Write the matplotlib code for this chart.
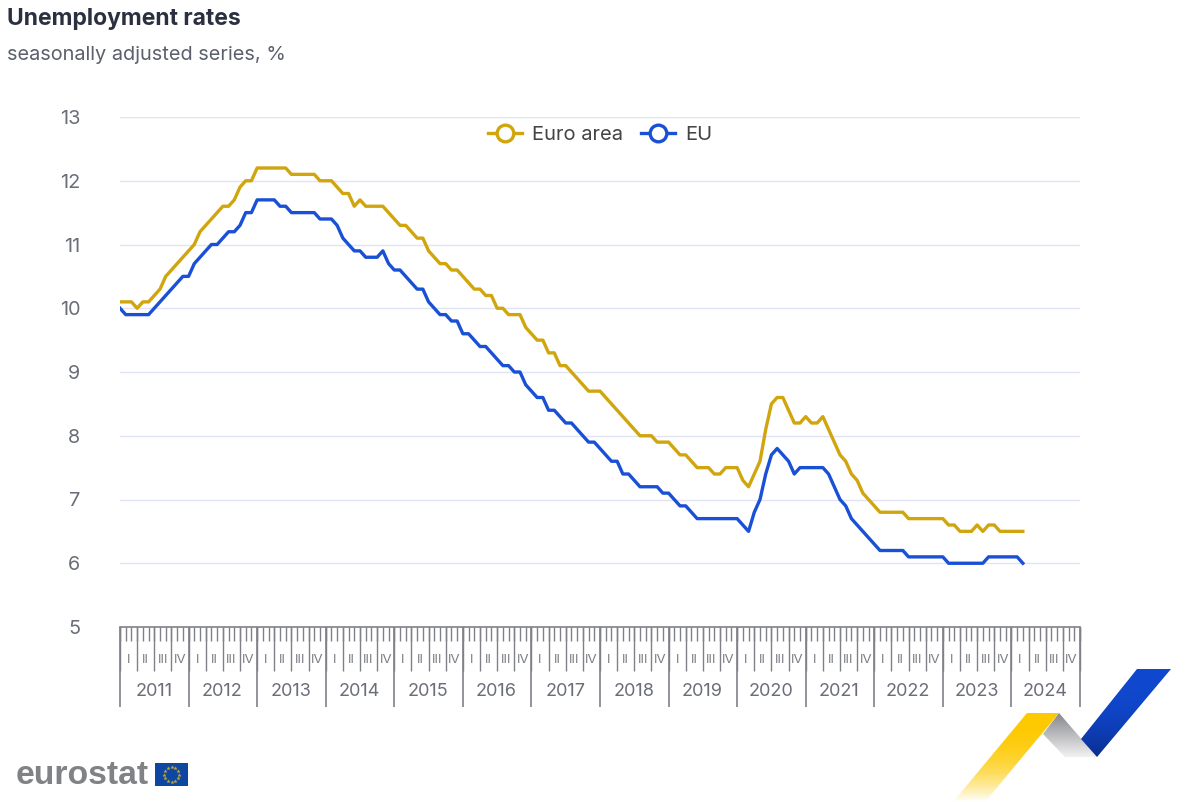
import numpy as np
import matplotlib
matplotlib.use("Agg")
import matplotlib.pyplot as plt
from matplotlib.lines import Line2D
from matplotlib.patches import Polygon, Rectangle

plt.rcParams['font.family'] = ['Inter', 'Liberation Sans', 'DejaVu Sans']

# monthly values, Jan 2011 - Mar 2024, one row per year
euro_area = [
    10.1, 10.1, 10.1, 10.0, 10.1, 10.1, 10.2, 10.3, 10.5, 10.6, 10.7, 10.8,
    10.9, 11.0, 11.2, 11.3, 11.4, 11.5, 11.6, 11.6, 11.7, 11.9, 12.0, 12.0,
    12.2, 12.2, 12.2, 12.2, 12.2, 12.2, 12.1, 12.1, 12.1, 12.1, 12.1, 12.0,
    12.0, 12.0, 11.9, 11.8, 11.8, 11.6, 11.7, 11.6, 11.6, 11.6, 11.6, 11.5,
    11.4, 11.3, 11.3, 11.2, 11.1, 11.1, 10.9, 10.8, 10.7, 10.7, 10.6, 10.6,
    10.5, 10.4, 10.3, 10.3, 10.2, 10.2, 10.0, 10.0, 9.9, 9.9, 9.9, 9.7,
    9.6, 9.5, 9.5, 9.3, 9.3, 9.1, 9.1, 9.0, 8.9, 8.8, 8.7, 8.7,
    8.7, 8.6, 8.5, 8.4, 8.3, 8.2, 8.1, 8.0, 8.0, 8.0, 7.9, 7.9,
    7.9, 7.8, 7.7, 7.7, 7.6, 7.5, 7.5, 7.5, 7.4, 7.4, 7.5, 7.5,
    7.5, 7.3, 7.2, 7.4, 7.6, 8.1, 8.5, 8.6, 8.6, 8.4, 8.2, 8.2,
    8.3, 8.2, 8.2, 8.3, 8.1, 7.9, 7.7, 7.6, 7.4, 7.3, 7.1, 7.0,
    6.9, 6.8, 6.8, 6.8, 6.8, 6.8, 6.7, 6.7, 6.7, 6.7, 6.7, 6.7,
    6.7, 6.6, 6.6, 6.5, 6.5, 6.5, 6.6, 6.5, 6.6, 6.6, 6.5, 6.5,
    6.5, 6.5, 6.5,
]
eu = [
    10.0, 9.9, 9.9, 9.9, 9.9, 9.9, 10.0, 10.1, 10.2, 10.3, 10.4, 10.5,
    10.5, 10.7, 10.8, 10.9, 11.0, 11.0, 11.1, 11.2, 11.2, 11.3, 11.5, 11.5,
    11.7, 11.7, 11.7, 11.7, 11.6, 11.6, 11.5, 11.5, 11.5, 11.5, 11.5, 11.4,
    11.4, 11.4, 11.3, 11.1, 11.0, 10.9, 10.9, 10.8, 10.8, 10.8, 10.9, 10.7,
    10.6, 10.6, 10.5, 10.4, 10.3, 10.3, 10.1, 10.0, 9.9, 9.9, 9.8, 9.8,
    9.6, 9.6, 9.5, 9.4, 9.4, 9.3, 9.2, 9.1, 9.1, 9.0, 9.0, 8.8,
    8.7, 8.6, 8.6, 8.4, 8.4, 8.3, 8.2, 8.2, 8.1, 8.0, 7.9, 7.9,
    7.8, 7.7, 7.6, 7.6, 7.4, 7.4, 7.3, 7.2, 7.2, 7.2, 7.2, 7.1,
    7.1, 7.0, 6.9, 6.9, 6.8, 6.7, 6.7, 6.7, 6.7, 6.7, 6.7, 6.7,
    6.7, 6.6, 6.5, 6.8, 7.0, 7.4, 7.7, 7.8, 7.7, 7.6, 7.4, 7.5,
    7.5, 7.5, 7.5, 7.5, 7.4, 7.2, 7.0, 6.9, 6.7, 6.6, 6.5, 6.4,
    6.3, 6.2, 6.2, 6.2, 6.2, 6.2, 6.1, 6.1, 6.1, 6.1, 6.1, 6.1,
    6.1, 6.0, 6.0, 6.0, 6.0, 6.0, 6.0, 6.0, 6.1, 6.1, 6.1, 6.1,
    6.1, 6.1, 6.0,
]
years = list(range(2011, 2025))
quarters = ["I", "II", "III", "IV"]
y_ticks = [5, 6, 7, 8, 9, 10, 11, 12, 13]

YELLOW = "#d0a50e"
BLUE = "#1a50d6"
TICK = "#808188"
W, H = 1200, 802

fig = plt.figure(figsize=(W / 100, H / 100), dpi=100, facecolor="white")

# background layer in pixels, for titles and logos
bg = fig.add_axes([0, 0, 1, 1])
bg.set_xlim(0, W)
bg.set_ylim(H, 0)
bg.axis("off")

bg.text(7, 19, "Unemployment rates", fontsize=16.5, fontweight="bold", color="#2b3040", va="center")
bg.text(7, 55, "seasonally adjusted series, %", fontsize=14.35, color="#5b606c", va="center")


def gradient_poly(points, top, bottom, y0, y1, power=1.0):
    # vertical colour fade clipped to a polygon
    c0 = np.array(matplotlib.colors.to_rgba(top))
    c1 = np.array(matplotlib.colors.to_rgba(bottom))
    t = (np.linspace(0, 1, 200) ** power)[:, None, None]
    img = (c0[None, None, :] * (1 - t) + c1[None, None, :] * t)
    xs = [p[0] for p in points]
    im = bg.imshow(img, extent=(min(xs), max(xs), y1, y0), aspect="auto", zorder=1, interpolation="bilinear")
    patch = Polygon(points, closed=True, transform=bg.transData, facecolor="none", edgecolor="none")
    bg.add_patch(patch)
    im.set_clip_path(patch)


gradient_poly([(1043, 734), (1059, 713), (1097, 757), (1065, 757)], "#85878c", "#f2f2f2", 713, 757)
gradient_poly([(1137, 669), (1171, 669), (1097, 757), (1081, 739)], "#1048cf", "#0a2d8e", 669, 757, 2.5)
gradient_poly([(1027, 713), (1059, 713), (985, 802), (953, 802)], "#fdc900", "#ffffff", 713, 802, 2.5)
bg.set_xlim(0, W)
bg.set_ylim(H, 0)

bg.text(16, 775, "eurostat", fontsize=24.3, fontweight="bold", color="#808285", va="center",
        family="Liberation Sans")
bg.add_patch(Rectangle((155, 763), 33, 23, facecolor="#0e47a1", edgecolor="none"))
star_angles = np.arange(12) * np.pi / 6
bg.plot(171.5 + 7.5 * np.cos(star_angles), 774.5 + 7.5 * np.sin(star_angles), ls="none",
        marker="*", ms=3.2, color="#c9a830", mew=0)

# main chart
ax = fig.add_axes([120 / W, 1 - 627 / H, 960 / W, 510 / H], facecolor="none")
months = np.arange(len(euro_area))
ax.plot(months, euro_area, color=YELLOW, lw=2.4, solid_joinstyle="round", zorder=3)
ax.plot(months, eu, color=BLUE, lw=2.4, solid_joinstyle="round", zorder=3)

ax.set_xlim(0, 168)
ax.set_ylim(5, 13)
ax.set_yticks(y_ticks)
ax.tick_params(axis="y", length=0, pad=28.5, labelsize=14.3, labelcolor="#6a6e78")
ax.grid(axis="y", color="#e0e4f4", lw=1)
ax.set_axisbelow(True)
for s in ["top", "left", "right"]:
    ax.spines[s].set_visible(False)
ax.spines["bottom"].set_color(TICK)
ax.spines["bottom"].set_linewidth(1.2)
ax.set_xticks([])

# three levels of ticks hanging under the axis: months, quarters, years
tr = ax.get_xaxis_transform()
all_months = np.arange(0, 169)
ax.vlines(all_months, 0, -14 / 510, transform=tr, color=TICK, lw=1, clip_on=False)
ax.vlines(all_months[::3], 0, -44 / 510, transform=tr, color=TICK, lw=1, clip_on=False)
ax.vlines(all_months[::12], 0, -80 / 510, transform=tr, color=TICK, lw=1.2, clip_on=False)

for i, year in enumerate(years):
    ax.text(i * 12 + 5.9, -65 / 510, str(year), transform=tr, ha="center", va="center",
            fontsize=13, color="#6a6e78")
    for q, label in enumerate(quarters):
        ax.text(i * 12 + q * 3 + 1.5, -33 / 510, label, transform=tr, ha="center", va="center",
                fontsize=9.5, color="#7b7d85")

handles = [
    Line2D([], [], color=YELLOW, lw=2.4, marker="o", ms=12, mfc="white", mew=2.4, label="Euro area"),
    Line2D([], [], color=BLUE, lw=2.4, marker="o", ms=12, mfc="white", mew=2.4, label="EU"),
]
ax.legend(handles=handles, loc="center", bbox_to_anchor=(0.5, 0.964), ncol=2, frameon=False,
          fontsize=14.5, labelcolor="#444444", handlelength=1.7, handletextpad=0.5,
          columnspacing=0.9, borderpad=0)

fig.savefig("out.png", dpi=100, facecolor="white")
